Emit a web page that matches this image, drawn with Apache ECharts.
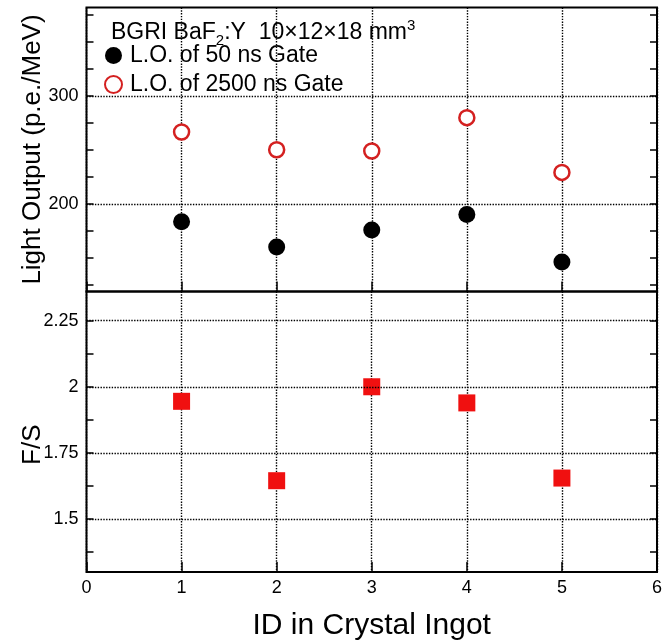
<!DOCTYPE html>
<html><head><meta charset="utf-8">
<script src="https://cdn.jsdelivr.net/npm/echarts@6/dist/echarts.min.js"></script>
<style>html,body{margin:0;padding:0;background:#fff}#c{width:665px;height:642px}</style>
</head><body><div id="c"></div>
<script>
// ---- data ----
const ids = [1, 2, 3, 4, 5];
const lo50 = [183.6, 160.2, 175.9, 190.4, 146.3];
const lo2500 = [266.7, 250.3, 249.1, 280.0, 229.3];
const fs = [1.945, 1.645, 2.0, 1.939, 1.655];
const topGridVals = [200, 300];
const topTickVals = [125, 150, 175, 200, 225, 250, 275, 300, 325, 350, 375];
const botGridVals = [1.5, 1.75, 2, 2.25];
const botTickVals = [1.375, 1.5, 1.625, 1.75, 1.875, 2, 2.125, 2.25];
const seriesNames = ['L.O. of 50 ns Gate', 'L.O. of 2500 ns Gate', 'F/S'];

const FONT = 'Liberation Sans, Arial, Helvetica, sans-serif';
const dotted = { type: 'dotted', color: '#000', width: 1.4 };

function gridMarkLine(vals) {
  return {
    silent: true, animation: false, symbol: ['none', 'none'],
    label: { show: false }, lineStyle: dotted,
    emphasis: { disabled: true },
    data: vals.map(v => ({ yAxis: v }))
  };
}
function xAx(gi, showLabel) {
  return {
    gridIndex: gi, type: 'value', min: 0, max: 6, interval: 1,
    axisLine: { show: false },
    axisTick: { show: true, inside: true, length: 10, lineStyle: { color: '#000', width: 1.5 } },
    axisLabel: { show: showLabel, fontSize: 18, color: '#000', fontFamily: FONT, margin: 7 },
    splitLine: { show: true, lineStyle: dotted }
  };
}
function yAx(gi, pos, min, max, ticks, labels, extra) {
  return Object.assign({
    gridIndex: gi, type: 'value', position: pos, min: min, max: max,
    axisLine: { show: false },
    axisTick: { show: true, inside: true, length: 7, customValues: ticks, lineStyle: { color: '#000', width: 1.5 } },
    axisLabel: labels ? { show: true, customValues: labels, fontSize: 18, color: '#000', fontFamily: FONT, margin: 8 } : { show: false },
    splitLine: { show: false }
  }, extra || {});
}

const chart = echarts.init(document.getElementById('c'), null, { renderer: 'canvas' });
chart.setOption({
  animation: false,
  backgroundColor: '#fff',
  title: {
    left: 106, top: 13,
    text: '{a|BGRI BaF}{sub|2}{a|:Y  10×12×18 mm}{sup|3}',
    textStyle: {
      fontWeight: 'normal',
      rich: {
        a: { fontSize: 23, fontWeight: 'normal', fontFamily: FONT, color: '#000', lineHeight: 30, verticalAlign: 'middle' },
        sub: { fontSize: 15, fontWeight: 'normal', fontFamily: FONT, color: '#000', lineHeight: 30, verticalAlign: 'bottom' },
        sup: { fontSize: 15, fontWeight: 'normal', fontFamily: FONT, color: '#000', lineHeight: 30, verticalAlign: 'top' }
      }
    }
  },
  legend: {
    left: 104, top: 44, orient: 'vertical', padding: 0,
    itemWidth: 17, itemHeight: 17, itemGap: 6,
    textStyle: { fontSize: 23, fontFamily: FONT, color: '#000', padding: [0, 0, 0, 3] },
    data: [seriesNames[0], seriesNames[1]]
  },
  grid: [
    { left: 86.5, right: 8, top: 7.5, height: 284, show: true, borderColor: '#000', borderWidth: 2, containLabel: false },
    { left: 86.5, right: 8, top: 291.5, height: 282.5, show: true, borderColor: '#000', borderWidth: 2, containLabel: false }
  ],
  xAxis: [
    xAx(0, false),
    Object.assign(xAx(1, true), {
      name: 'ID in Crystal Ingot', nameLocation: 'middle', nameGap: 39, nameMoveOverlap: false,
      nameTextStyle: { fontSize: 30, fontFamily: FONT, color: '#000' }
    })
  ],
  yAxis: [
    yAx(0, 'left', 119, 382, topTickVals, topGridVals, {
      name: 'Light Output (p.e./MeV)', nameLocation: 'middle', nameGap: 41, nameMoveOverlap: false,
      nameTextStyle: { fontSize: 26, fontFamily: FONT, color: '#000' }
    }),
    yAx(0, 'right', 119, 382, topTickVals, null),
    yAx(1, 'left', 1.3, 2.36, botTickVals, botGridVals, {
      name: 'F/S', nameLocation: 'middle', nameGap: 41, nameMoveOverlap: false,
      nameTextStyle: { fontSize: 26, fontFamily: FONT, color: '#000', padding: [0, 26, 0, 0] }
    }),
    yAx(1, 'right', 1.3, 2.36, botTickVals, null)
  ],
  series: [
    {
      name: seriesNames[0], type: 'scatter', xAxisIndex: 0, yAxisIndex: 0,
      symbol: 'circle', symbolSize: 17,
      itemStyle: { color: '#000', opacity: 1 },
      data: ids.map((x, i) => [x, lo50[i]]),
      markLine: gridMarkLine(topGridVals), z: 3
    },
    {
      name: seriesNames[1], type: 'scatter', xAxisIndex: 0, yAxisIndex: 0,
      symbol: 'circle', symbolSize: 15,
      itemStyle: { color: '#fff', borderColor: '#d42020', borderWidth: 2.5, opacity: 1 },
      data: ids.map((x, i) => [x, lo2500[i]]), z: 3
    },
    {
      name: seriesNames[2], type: 'scatter', xAxisIndex: 1, yAxisIndex: 2,
      symbol: 'rect', symbolSize: 17,
      itemStyle: { color: '#f01010', opacity: 1 },
      data: ids.map((x, i) => [x, fs[i]]),
      markLine: gridMarkLine(botGridVals), z: 3
    }
  ]
});
</script>
</body></html>
